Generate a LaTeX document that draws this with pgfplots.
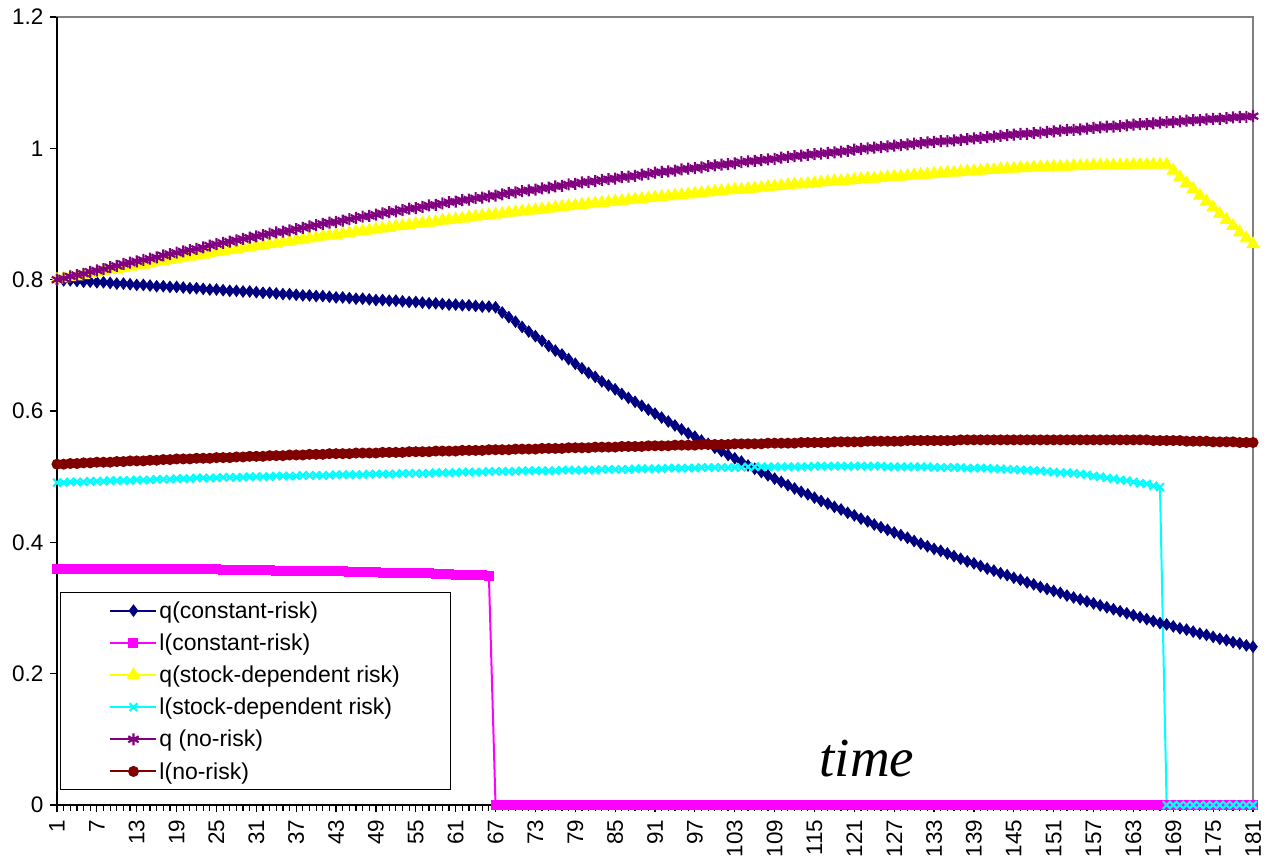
\documentclass[border=0pt]{standalone}
\usepackage{fontspec}
\setmainfont{Liberation Sans}
\newfontfamily\timesfont{Liberation Serif}
\usepackage{pgfplots}
\usepackage{pgfplotstable}
\pgfplotsset{compat=1.18}

\definecolor{xlnavy}{HTML}{000080}
\definecolor{xlmagenta}{HTML}{FF00FF}
\definecolor{xlyellow}{HTML}{FFFF00}
\definecolor{xlcyan}{HTML}{00FFFF}
\definecolor{xlpurple}{HTML}{800080}
\definecolor{xldarkred}{HTML}{800000}

% t, q and l for the three cases
\pgfplotstableread{
t qc lc qs ls qn ln
1 0.800 0.360 0.800 0.491 0.800 0.519
2 0.799 0.360 0.802 0.491 0.802 0.519
3 0.799 0.360 0.804 0.492 0.805 0.520
4 0.798 0.360 0.805 0.492 0.807 0.520
5 0.797 0.360 0.807 0.492 0.809 0.521
6 0.797 0.360 0.809 0.493 0.812 0.521
7 0.796 0.360 0.811 0.493 0.814 0.522
8 0.796 0.360 0.813 0.493 0.816 0.522
9 0.795 0.360 0.815 0.494 0.819 0.522
10 0.794 0.360 0.816 0.494 0.821 0.523
11 0.794 0.360 0.818 0.494 0.824 0.523
12 0.793 0.360 0.820 0.494 0.826 0.524
13 0.792 0.360 0.822 0.495 0.828 0.524
14 0.792 0.360 0.823 0.495 0.830 0.524
15 0.791 0.360 0.825 0.495 0.832 0.525
16 0.790 0.359 0.827 0.496 0.834 0.525
17 0.790 0.359 0.828 0.496 0.837 0.526
18 0.789 0.359 0.830 0.496 0.839 0.526
19 0.789 0.359 0.832 0.497 0.841 0.527
20 0.788 0.359 0.834 0.497 0.843 0.527
21 0.787 0.359 0.835 0.497 0.845 0.527
22 0.787 0.359 0.837 0.498 0.847 0.528
23 0.786 0.359 0.838 0.498 0.849 0.528
24 0.785 0.359 0.840 0.498 0.852 0.528
25 0.785 0.359 0.842 0.498 0.854 0.529
26 0.784 0.358 0.843 0.499 0.856 0.529
27 0.783 0.358 0.845 0.499 0.858 0.529
28 0.783 0.358 0.846 0.499 0.860 0.530
29 0.782 0.358 0.848 0.499 0.862 0.530
30 0.782 0.358 0.849 0.500 0.864 0.531
31 0.781 0.358 0.851 0.500 0.866 0.531
32 0.780 0.358 0.852 0.500 0.868 0.531
33 0.780 0.358 0.854 0.500 0.870 0.532
34 0.779 0.357 0.855 0.501 0.872 0.532
35 0.778 0.357 0.857 0.501 0.873 0.532
36 0.778 0.357 0.858 0.501 0.875 0.533
37 0.777 0.357 0.860 0.501 0.877 0.533
38 0.776 0.357 0.861 0.502 0.879 0.533
39 0.776 0.357 0.863 0.502 0.881 0.534
40 0.775 0.356 0.864 0.502 0.883 0.534
41 0.775 0.356 0.866 0.502 0.885 0.534
42 0.774 0.356 0.867 0.502 0.887 0.535
43 0.773 0.356 0.868 0.503 0.888 0.535
44 0.773 0.356 0.870 0.503 0.890 0.535
45 0.772 0.355 0.871 0.503 0.892 0.535
46 0.771 0.355 0.873 0.503 0.894 0.536
47 0.771 0.355 0.874 0.503 0.896 0.536
48 0.770 0.355 0.875 0.504 0.897 0.536
49 0.769 0.355 0.877 0.504 0.899 0.536
50 0.769 0.354 0.878 0.504 0.901 0.537
51 0.768 0.354 0.879 0.504 0.903 0.537
52 0.768 0.354 0.881 0.504 0.904 0.537
53 0.767 0.354 0.882 0.505 0.906 0.537
54 0.766 0.353 0.883 0.505 0.908 0.538
55 0.766 0.353 0.885 0.505 0.909 0.538
56 0.765 0.353 0.886 0.505 0.911 0.538
57 0.764 0.353 0.887 0.505 0.913 0.538
58 0.764 0.352 0.888 0.506 0.914 0.539
59 0.763 0.352 0.890 0.506 0.916 0.539
60 0.762 0.352 0.891 0.506 0.918 0.539
61 0.762 0.351 0.892 0.506 0.919 0.539
62 0.761 0.351 0.893 0.507 0.921 0.540
63 0.761 0.351 0.895 0.507 0.922 0.540
64 0.760 0.350 0.896 0.507 0.924 0.540
65 0.759 0.350 0.897 0.507 0.925 0.540
66 0.759 0.349 0.898 0.508 0.927 0.541
67 0.758 0 0.899 0.508 0.928 0.541
68 0.750 0 0.900 0.508 0.930 0.541
69 0.743 0 0.902 0.508 0.932 0.541
70 0.736 0 0.903 0.508 0.933 0.542
71 0.728 0 0.904 0.509 0.935 0.542
72 0.721 0 0.905 0.509 0.936 0.542
73 0.714 0 0.906 0.509 0.937 0.542
74 0.707 0 0.907 0.509 0.939 0.543
75 0.699 0 0.908 0.509 0.940 0.543
76 0.692 0 0.910 0.509 0.942 0.543
77 0.686 0 0.911 0.510 0.943 0.543
78 0.679 0 0.912 0.510 0.945 0.544
79 0.672 0 0.913 0.510 0.946 0.544
80 0.665 0 0.914 0.510 0.948 0.544
81 0.658 0 0.915 0.510 0.949 0.544
82 0.652 0 0.916 0.510 0.950 0.545
83 0.645 0 0.917 0.511 0.952 0.545
84 0.639 0 0.918 0.511 0.953 0.545
85 0.633 0 0.919 0.511 0.954 0.545
86 0.626 0 0.920 0.511 0.956 0.546
87 0.620 0 0.921 0.511 0.957 0.546
88 0.614 0 0.922 0.512 0.958 0.546
89 0.608 0 0.923 0.512 0.960 0.546
90 0.602 0 0.924 0.512 0.961 0.547
91 0.596 0 0.925 0.512 0.963 0.547
92 0.590 0 0.926 0.512 0.964 0.547
93 0.584 0 0.927 0.513 0.965 0.547
94 0.578 0 0.928 0.513 0.966 0.548
95 0.572 0 0.929 0.513 0.968 0.548
96 0.566 0 0.930 0.513 0.969 0.548
97 0.561 0 0.931 0.513 0.970 0.548
98 0.555 0 0.932 0.514 0.971 0.549
99 0.550 0 0.933 0.514 0.973 0.549
100 0.544 0 0.934 0.514 0.974 0.549
101 0.539 0 0.935 0.514 0.975 0.549
102 0.533 0 0.936 0.514 0.976 0.549
103 0.528 0 0.937 0.514 0.977 0.550
104 0.523 0 0.937 0.514 0.979 0.550
105 0.517 0 0.938 0.515 0.980 0.550
106 0.512 0 0.939 0.515 0.981 0.550
107 0.507 0 0.940 0.515 0.982 0.550
108 0.502 0 0.941 0.515 0.983 0.551
109 0.497 0 0.942 0.515 0.984 0.551
110 0.492 0 0.943 0.515 0.986 0.551
111 0.487 0 0.944 0.515 0.987 0.551
112 0.482 0 0.945 0.515 0.988 0.551
113 0.477 0 0.945 0.515 0.989 0.552
114 0.473 0 0.946 0.515 0.990 0.552
115 0.468 0 0.947 0.516 0.991 0.552
116 0.463 0 0.948 0.516 0.992 0.552
117 0.459 0 0.949 0.516 0.993 0.552
118 0.454 0 0.950 0.516 0.994 0.553
119 0.450 0 0.950 0.516 0.995 0.553
120 0.445 0 0.951 0.516 0.996 0.553
121 0.441 0 0.952 0.516 0.998 0.553
122 0.436 0 0.953 0.516 0.999 0.553
123 0.432 0 0.954 0.516 1.000 0.554
124 0.427 0 0.954 0.516 1.001 0.554
125 0.423 0 0.955 0.516 1.002 0.554
126 0.419 0 0.956 0.515 1.003 0.554
127 0.415 0 0.957 0.515 1.004 0.554
128 0.411 0 0.957 0.515 1.005 0.554
129 0.407 0 0.958 0.515 1.006 0.555
130 0.402 0 0.959 0.515 1.007 0.555
131 0.398 0 0.960 0.515 1.008 0.555
132 0.394 0 0.960 0.515 1.009 0.555
133 0.390 0 0.961 0.514 1.010 0.555
134 0.387 0 0.962 0.514 1.011 0.555
135 0.383 0 0.963 0.514 1.011 0.555
136 0.379 0 0.963 0.514 1.012 0.555
137 0.375 0 0.964 0.514 1.013 0.556
138 0.371 0 0.965 0.513 1.014 0.556
139 0.368 0 0.965 0.513 1.015 0.556
140 0.364 0 0.966 0.513 1.016 0.556
141 0.360 0 0.967 0.513 1.017 0.556
142 0.357 0 0.967 0.512 1.018 0.556
143 0.353 0 0.968 0.512 1.019 0.556
144 0.350 0 0.969 0.511 1.020 0.556
145 0.346 0 0.969 0.511 1.021 0.556
146 0.343 0 0.970 0.510 1.022 0.556
147 0.339 0 0.970 0.510 1.022 0.556
148 0.336 0 0.971 0.509 1.023 0.556
149 0.332 0 0.971 0.509 1.024 0.556
150 0.329 0 0.971 0.508 1.025 0.556
151 0.326 0 0.972 0.507 1.026 0.556
152 0.323 0 0.972 0.506 1.027 0.556
153 0.319 0 0.972 0.506 1.028 0.556
154 0.316 0 0.973 0.505 1.028 0.556
155 0.313 0 0.973 0.504 1.029 0.556
156 0.310 0 0.973 0.503 1.030 0.556
157 0.307 0 0.974 0.501 1.031 0.556
158 0.304 0 0.974 0.500 1.032 0.556
159 0.301 0 0.974 0.498 1.033 0.556
160 0.298 0 0.974 0.497 1.033 0.556
161 0.295 0 0.974 0.495 1.034 0.556
162 0.292 0 0.974 0.494 1.035 0.556
163 0.289 0 0.975 0.492 1.036 0.556
164 0.286 0 0.975 0.490 1.037 0.556
165 0.283 0 0.975 0.489 1.037 0.556
166 0.280 0 0.975 0.486 1.038 0.555
167 0.277 0 0.975 0.484 1.039 0.555
168 0.275 0 0.975 0 1.040 0.555
169 0.272 0 0.966 0 1.040 0.555
170 0.269 0 0.956 0 1.041 0.555
171 0.267 0 0.947 0 1.042 0.554
172 0.264 0 0.938 0 1.043 0.554
173 0.261 0 0.928 0 1.043 0.554
174 0.259 0 0.919 0 1.044 0.554
175 0.256 0 0.910 0 1.045 0.553
176 0.253 0 0.900 0 1.045 0.553
177 0.251 0 0.891 0 1.046 0.553
178 0.248 0 0.882 0 1.047 0.553
179 0.246 0 0.872 0 1.048 0.552
180 0.243 0 0.863 0 1.048 0.552
181 0.241 0 0.854 0 1.049 0.552
}\data

\begin{document}
\begin{tikzpicture}
\useasboundingbox (-57pt,-55pt) rectangle (1220pt,805pt);
\begin{axis}[
  at={(0pt,0pt)}, anchor=south west,
  scale only axis, width=1196pt, height=788pt,
  xmin=1, xmax=181, ymin=0, ymax=1.2,
  xtick={1,7,...,181}, minor xtick={1,...,181},
  ytick={0,0.2,0.4,0.6,0.8,1,1.2},
  xtick pos=bottom, ytick pos=left,
  tick align=outside, major tick length=7pt, minor tick length=6pt,
  tick style={black, line width=1.2pt},
  axis line style={draw=gray, line width=2pt},
  ticklabel style={font=\fontsize{22.5}{22.5}\selectfont},
  /pgf/number format/assume math mode=true,
  yticklabel style={/pgf/number format/fixed},
  yticklabel shift=3pt,
  xticklabel style={rotate=90, anchor=east},
  xticklabel shift=4pt,
  clip=false,
  legend style={at={(0.0025,0.019)}, anchor=south west, draw=black,
    line width=1pt, fill=white, font=\fontsize{23}{23}\selectfont,
    inner xsep=49pt, inner ysep=7pt, row sep=10pt},
  legend cell align=left,
  legend image code/.code={\draw[mark repeat=2,mark phase=2,#1]
    plot coordinates {(0pt,0pt) (23pt,0pt) (46pt,0pt)};},
]
\draw[black, line width=2pt] (rel axis cs:0,1) -- (rel axis cs:0,0) -- (rel axis cs:1,0);

\addplot[xlnavy, line width=2pt, mark=diamond*, mark size=5.6pt,
  mark options={line width=1pt}] table[x=t, y=qc] {\data};
\addplot[xlmagenta, line width=2pt, mark=square*, mark size=4.5pt,
  mark options={line width=1pt}] table[x=t, y=lc] {\data};
\addplot[xlyellow, line width=2pt, mark=triangle*, mark size=7pt,
  mark options={line width=1pt}] table[x=t, y=qs] {\data};
\addplot[xlcyan, line width=2pt, mark=x, mark size=5.5pt,
  mark options={line width=2.2pt}] table[x=t, y=ls] {\data};
\addplot[xlpurple, line width=2pt, mark=asterisk, mark size=6pt,
  mark options={line width=2.2pt}] table[x=t, y=qn] {\data};
\addplot[xldarkred, line width=2pt, mark=*, mark size=5pt,
  mark options={line width=1pt}] table[x=t, y=ln] {\data};

\legend{q(constant-risk), l(constant-risk), q(stock-dependent risk),
  l(stock-dependent risk), q (no-risk), l(no-risk)}

\node[font=\timesfont\itshape\fontsize{55}{55}\selectfont, anchor=base]
  at (axis cs:122.9,0.044) {time};
\end{axis}
\end{tikzpicture}
\end{document}
